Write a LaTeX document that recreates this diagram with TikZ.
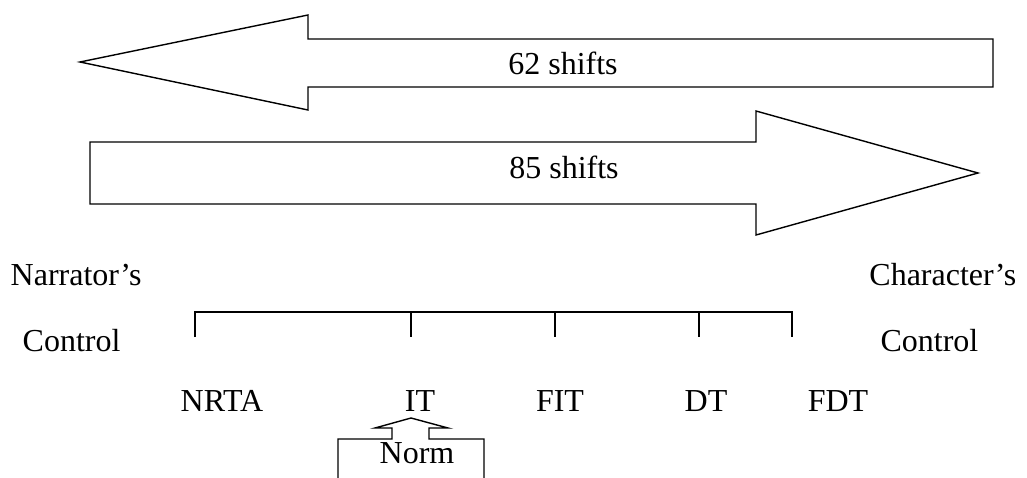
\documentclass[tikz,border=0pt]{standalone}
\usepackage{fontspec}
\setmainfont{Liberation Serif}
\usepackage{tikz}

\begin{document}
\begin{tikzpicture}[x=1pt,y=-1pt,line width=1.4pt,line join=miter,
  lbl/.style={anchor=base,inner sep=0pt,font=\fontsize{32}{38}\selectfont}]
\useasboundingbox (0,0) rectangle (1027,478);
% shift arrows
\draw (80,62) -- (308,15) -- (308,39) -- (993,39) -- (993,87) -- (308,87) -- (308,110) -- cycle;
\node[lbl] (s62) at (563,75) {62 shifts};
\draw (978,173) -- (756,111) -- (756,142) -- (90,142) -- (90,204) -- (756,204) -- (756,235) -- cycle;
\node[lbl] (s85) at (564,179) {85 shifts};
% scale
\draw (195,337) -- (195,312) -- (792,312) -- (792,337);
\foreach \x in {411,555,699} {
   \draw (\x,312) -- (\x,337);
}
\node[lbl,anchor=base west] (narr) at (10,285) {Narrator’s};
\node[lbl,anchor=base west] (ctrlL) at (22,351) {Control};
\node[lbl,anchor=base east] (char) at (1017,285) {Character’s};
\node[lbl,anchor=base east] (ctrlR) at (979,351) {Control};
\foreach \x/\t in %
{222/NRTA,420/IT,560/FIT,706/DT,838/FDT} {
   \node[lbl] (\t) at (\x,411) {\t};
}
% norm
\draw (338,478) -- (338,439) -- (392,439) -- (392,428) -- (375,428) -- (411,418)
   -- (448,428) -- (429,428) -- (429,439) -- (484,439) -- (484,478);
\node[lbl] (norm) at (417,463) {Norm};
\end{tikzpicture}
\end{document}
